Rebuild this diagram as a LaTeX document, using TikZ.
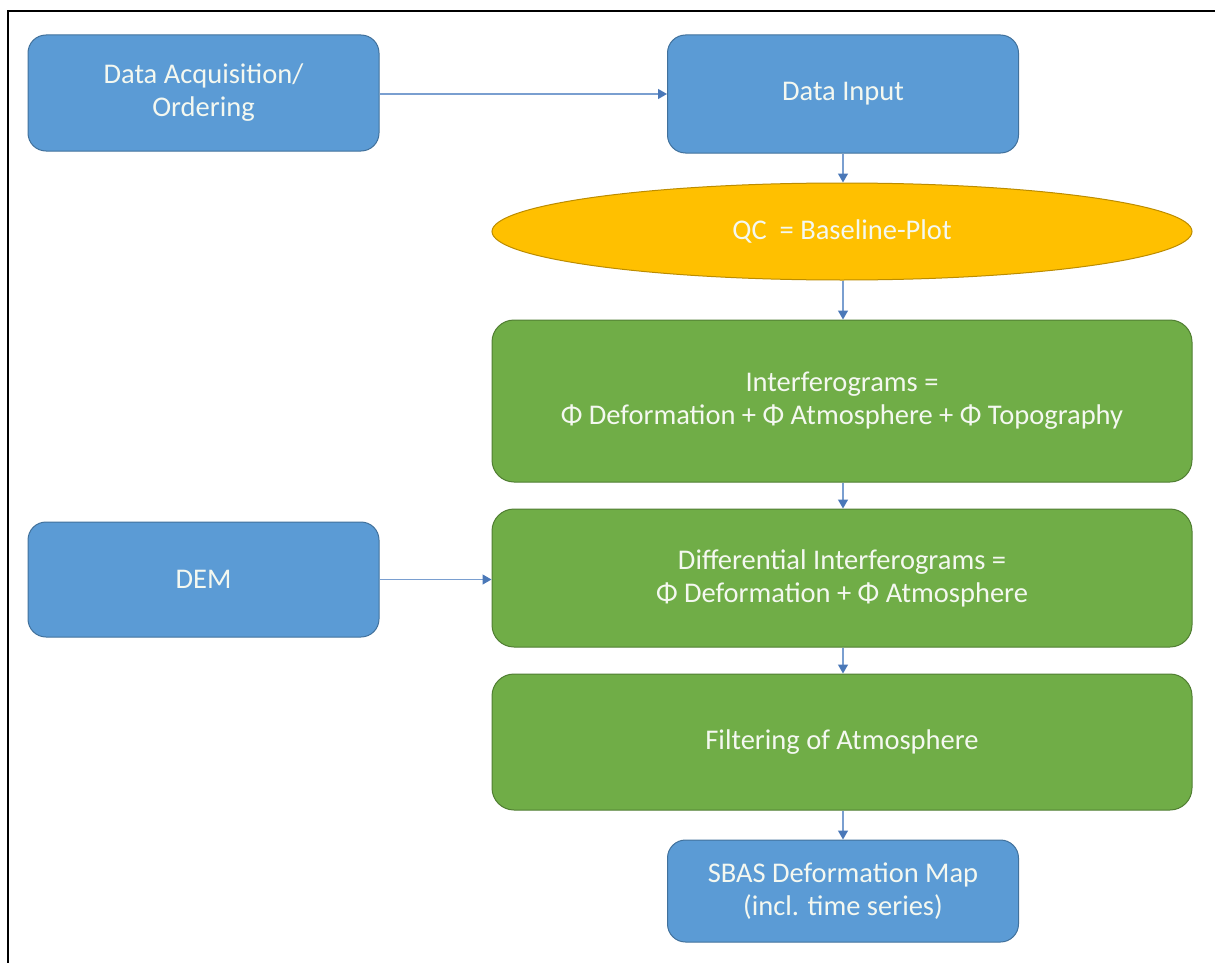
\documentclass[tikz,border=0pt]{standalone}
\usepackage{fontspec}
\setmainfont{Carlito}
\usetikzlibrary{shapes.geometric,arrows.meta}
\definecolor{bfill}{HTML}{5B9BD5}
\definecolor{bedge}{HTML}{41719C}
\definecolor{gfill}{HTML}{70AD47}
\definecolor{gedge}{HTML}{507E32}
\definecolor{yfill}{HTML}{FFC000}
\definecolor{yedge}{HTML}{BC8C00}
\definecolor{arr}{HTML}{7A9FD0}
\definecolor{arrhead}{HTML}{4A78B8}
\definecolor{txt}{HTML}{F4F8F0}
\tikzset{
  basebox/.style={rectangle, rounded corners=18pt, line width=1pt, text=txt,
    align=center, inner sep=0pt, font=\fontsize{28.5}{33}\selectfont},
  bluebox/.style={basebox, fill=bfill, draw=bedge, minimum width=351pt},
  greenbox/.style={basebox, fill=gfill, draw=gedge, minimum width=700pt, rounded corners=22pt},
  qcell/.style={ellipse, fill=yfill, draw=yedge, line width=1pt, text=txt,
    inner sep=0pt, minimum width=700pt, minimum height=97pt, font=\fontsize{28.5}{33}\selectfont},
  conn/.style={draw=arr, line width=1.3pt, -{Triangle[width=10pt,length=9pt,fill=arrhead,color=arrhead]}},
  frame/.style={line width=2.5pt, black}
}
\begin{document}
\begin{tikzpicture}[x=1pt,y=-1pt]
\useasboundingbox (0,0) rectangle (1215,963);
\coordinate (ftl) at (8,11);
\coordinate (ftr) at (1215,11);
\coordinate (fbl) at (8,963);
\draw[frame] (ftr) -- (ftl) -- (fbl);
\node[bluebox, minimum height=116pt] (acq) at (203.5,93) {Data Acquisition/\\Ordering};
\node[bluebox, minimum height=118pt] (input) at (843,94) {Data Input};
\node[qcell] (qc) at (842,231.5) {QC\ \ = Baseline-Plot};
\node[greenbox, minimum height=162pt] (interf) at (842,401) {Interferograms =\\Φ Deformation + Φ Atmosphere + Φ Topography};
\node[greenbox, minimum height=138pt] (diff) at (842,578) {Differential Interferograms =\\Φ Deformation + Φ Atmosphere};
\node[bluebox, minimum height=115pt] (dem) at (203.5,579.5) {DEM};
\node[greenbox, minimum height=136pt] (filt) at (842,742) {Filtering of Atmosphere};
\node[bluebox, minimum height=102pt] (sbas) at (843,891) {SBAS Deformation Map\\(incl. time series)};
\draw[conn] (acq.east |- input.west) -- (input.west);
\draw[conn] (input.south) -- (input.south |- qc.north);
\draw[conn] (input.south |- qc.south) -- (input.south |- interf.north);
\draw[conn] (input.south |- interf.south) -- (input.south |- diff.north);
\draw[conn] (dem.east) -- (dem.east -| diff.west);
\draw[conn] (input.south |- diff.south) -- (input.south |- filt.north);
\draw[conn] (filt.south -| sbas.north) -- (sbas.north);
\end{tikzpicture}
\end{document}
